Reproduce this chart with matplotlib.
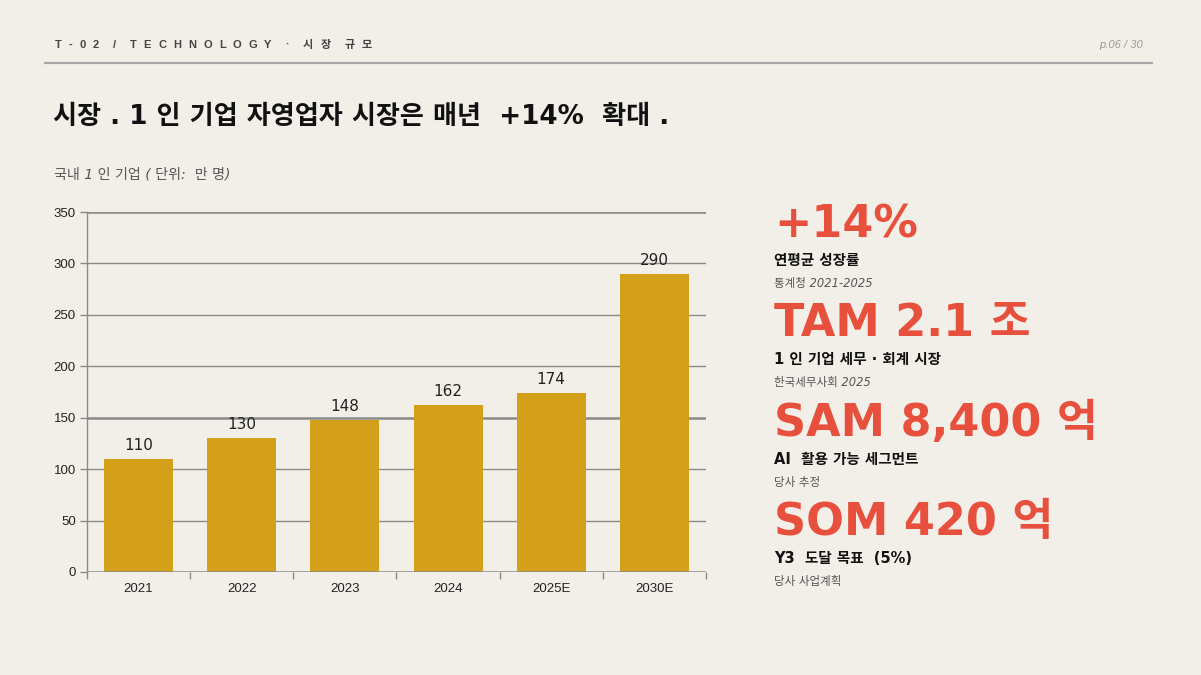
import matplotlib
matplotlib.use("Agg")
import matplotlib.pyplot as plt

# ---- data ----
years = ["2021", "2022", "2023", "2024", "2025E", "2030E"]
values = [110, 130, 148, 162, 174, 290]
y_ticks = [0, 50, 100, 150, 200, 250, 300, 350]

header = "T-02 / TECHNOLOGY · 시장 규모"
page = "p.06 / 30"
title = "시장 . 1 인 기업 자영업자 시장은 매년  +14%  확대 ."
subtitle = "국내 1 인 기업 ( 단위:  만 명)"

kpi_big = ["+14%", "TAM 2.1 조", "SAM 8,400 억", "SOM 420 억"]
kpi_label = ["연평균 성장률", "1 인 기업 세무 · 회계 시장", "AI  활용 가능 세그먼트", "Y3  도달 목표  (5%)"]
kpi_source = ["통계청 2021-2025", "한국세무사회 2025", "당사 추정", "당사 사업계획"]

BG = "#F2EFE8"
GOLD = "#D4A01A"
RED = "#E8503E"
GRID = "#8A8A8A"

W, H = 1201, 675
fig = plt.figure(figsize=(W / 100, H / 100), dpi=100, facecolor=BG)

KR = ["Noto Sans CJK KR", "DejaVu Sans"]
DV = ["DejaVu Sans", "Noto Sans CJK KR"]
LB = ["Liberation Sans", "Noto Sans CJK KR"]


def T(x, y, s, **kw):
    return fig.text(x / W, 1 - y / H, s, **kw)


# header with letter spacing
renderer = fig.canvas.get_renderer()
hkw = dict(family=LB, fontsize=8, fontweight="bold", color="#444444", va="center")
start_x, end_x = 55, 372
widths = []
for ch in header:
    if ch == " ":
        widths.append(0.0)
        continue
    t = T(0, 0, ch, **hkw)
    widths.append(t.get_window_extent(renderer).width)
    t.remove()
n_sp = len(header) - 1
ls = (end_x - start_x - sum(widths)) / n_sp
cx = start_x
for ch, w in zip(header, widths):
    if ch != " ":
        T(cx, 45, ch, **hkw)
    cx += w + ls

T(1143, 45, page, family=LB, fontsize=8, style="italic", color="#9A9A9A", va="center", ha="right")
fig.add_artist(plt.Line2D([45 / W, 1152 / W], [1 - 63 / H, 1 - 63 / H], color="#A8A8A8", lw=1.6))

# title
T(53, 117, title, family=DV, fontsize=18.8, fontweight="bold", color="#111111", va="center")
T(54, 175, subtitle, family=DV, fontsize=10.1, style="italic", color="#555555", va="center")

# chart
ax = fig.add_axes([87 / W, 103 / H, 619 / W, 360 / H])
ax.set_facecolor(BG)
x = list(range(len(years)))
bars = ax.bar(x, values, width=0.67, color=GOLD, zorder=3)
for xi, v in zip(x, values):
    ax.text(xi, v + 6, str(v), ha="center", va="bottom", fontsize=11, family="DejaVu Sans", color="#222222")
ax.set_xlim(-0.5, len(years) - 0.5)
ax.set_ylim(0, 350)
ax.set_yticks(y_ticks)
ax.set_yticklabels([str(t) for t in y_ticks], family="Liberation Sans", fontsize=9.5, color="#222222")
ax.set_xticks(x)
ax.set_xticklabels(years, family="Liberation Sans", fontsize=9.5, color="#222222")
ax.tick_params(axis="x", length=0, pad=8)
ax.set_xticks([i - 0.5 for i in range(len(years) + 1)], minor=True)
ax.tick_params(axis="x", which="minor", length=5, color=GRID, width=1)
ax.tick_params(axis="y", length=5, color=GRID, width=1, pad=3)
for t in y_ticks:
    lw = 1.8 if t in (0, 150, 350) else 1.0
    ax.axhline(t, color=GRID, lw=lw, zorder=1 if t not in (0,) else 4)
for s in ["top", "right", "bottom"]:
    ax.spines[s].set_visible(False)
ax.spines["left"].set_color(GRID)
ax.spines["left"].set_linewidth(1)

# KPI panel
bases = [237, 336, 436, 535]
for i in range(4):
    b = bases[i]
    T(774, b, kpi_big[i], family=DV, fontsize=32, fontweight="bold", color=RED, va="baseline")
    T(774, b + 28, kpi_label[i], family=DV, fontsize=10.5, fontweight="bold", color="#111111", va="baseline")
    T(774, b + 50, kpi_source[i], family=DV, fontsize=8.3, style="italic", color="#555555", va="baseline")

fig.savefig("out.png", dpi=100, facecolor=BG)
